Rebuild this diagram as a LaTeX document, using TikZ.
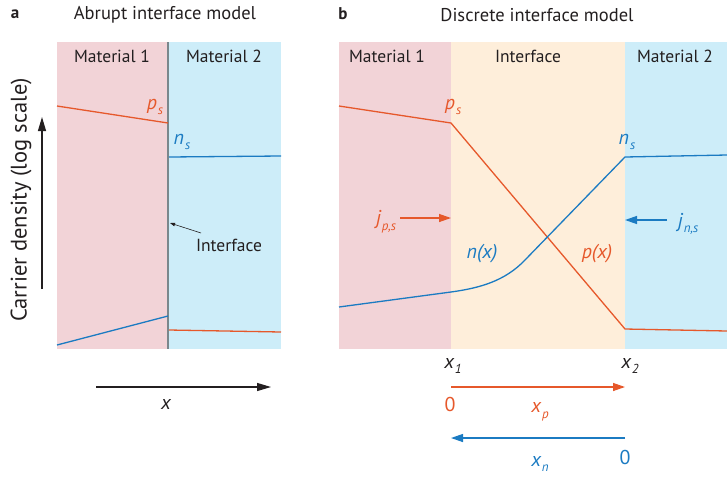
\documentclass[tikz,border=0pt]{standalone}
\usepackage{fontspec}
\setmainfont{PT Sans}
\usetikzlibrary{arrows.meta}
\definecolor{matone}{HTML}{F2D3D7}
\definecolor{mattwo}{HTML}{CDEDF9}
\definecolor{intf}{HTML}{FEEEDA}
\definecolor{redc}{HTML}{E6582B}
\definecolor{bluec}{HTML}{1B7BC2}
\definecolor{grayc}{HTML}{7A878C}
\definecolor{textc}{HTML}{231F20}
\newcommand\mysb[1]{\kern1pt\raisebox{-0.28em}{\fontsize{13}{13}\selectfont #1}}
\begin{document}
\begin{tikzpicture}[x=1pt,y=-1pt,
  lbl/.style={font=\fontsize{17.5}{20}\selectfont, text=textc, inner sep=0pt},
  ttl/.style={font=\fontsize{18.5}{21}\selectfont, text=textc, inner sep=0pt},
  panel/.style={font=\fontsize{17}{19}\selectfont\bfseries, text=textc, inner sep=0pt},
  curve/.style={line width=1.3pt},
  var/.style={font=\fontsize{20}{22}\selectfont\itshape, inner sep=0pt},
  num/.style={font=\fontsize{20}{22}\selectfont, inner sep=0pt},
  arr/.style={-{Triangle[length=12pt,width=8pt]}, line width=1.3pt},
  axarr/.style={-{Triangle[length=14pt,width=8pt]}, line width=1.2pt, textc},
]
\useasboundingbox (0,0) rectangle (727,477);
% ---------- panel a ----------
\node[panel] (la) at (15,14) {a};
\node[ttl] (ta) at (165,15) {Abrupt interface model};
\fill[matone] (57,42) rectangle (168,349);
\fill[mattwo] (168,42) rectangle (281,349);
\draw[grayc, line width=1.6pt] (168,42) -- (168,349);
\node[lbl] (m1a) at (112,56) {Material 1};
\node[lbl] (m2a) at (224,56) {Material 2};
\coordinate (pa1) at (57,106); \coordinate (pa2) at (168,123);
\coordinate (na1) at (169,157); \coordinate (na2) at (281,156);
\coordinate (nb1) at (57,345); \coordinate (nb2) at (168,316);
\coordinate (pb1) at (169,330); \coordinate (pb2) at (281,332);
\draw[redc,curve] (pa1) -- (pa2);
\draw[bluec,curve] (na1) -- (na2);
\draw[bluec,curve] (nb1) -- (nb2);
\draw[redc,curve] (pb1) -- (pb2);
\node[var,text=redc] (psa) at (155,107) {p\mysb{s}};
\node[var,text=bluec] (nsa) at (182,142) {n\mysb{s}};
\node[lbl] (ifa) at (229,245) {Interface};
\coordinate (ifatip) at (170,223);
\draw[textc, line width=0.6pt, -{Triangle[length=5pt,width=3.5pt]}] (201,233) -- (ifatip);
\coordinate (ya1) at (42,289); \coordinate (ya2) at (42,117);
\draw[axarr] (ya1) -- (ya2);
\node[font=\fontsize{22.5}{25}\selectfont, text=textc, rotate=90, inner sep=0pt] (ylab) at (21,200) {Carrier density (log scale)};
\coordinate (xa1) at (96,387); \coordinate (xa2) at (271,387);
\draw[axarr] (xa1) -- (xa2);
\node[var,text=textc] (xlab) at (166,404) {x};
% ---------- panel b ----------
\node[panel] (lb) at (343,14) {b};
\node[ttl] (tb) at (537,15) {Discrete interface model};
\fill[matone] (339,42) rectangle (451,349);
\fill[intf] (451,42) rectangle (625,349);
\fill[mattwo] (625,42) rectangle (727,349);
\node[lbl] (m1b) at (387,56) {Material 1};
\node[lbl] (ifb) at (528,56) {Interface};
\node[lbl] (m2b) at (675,56) {Material 2};
\coordinate (p1) at (339,106); \coordinate (p2) at (451,123);
\coordinate (p3) at (625,329); \coordinate (p4) at (727,331);
\draw[redc,curve] (p1) -- (p2) -- (p3) -- (p4);
\coordinate (n1) at (339,307); \coordinate (n2) at (451,292);
\coordinate (n3) at (525,260); \coordinate (n4) at (625,157); \coordinate (n5) at (727,155);
\draw[bluec,curve] (n1) -- (n2) .. controls (480,288) and (505,281) .. (n3) -- (n4) -- (n5);
\node[var,text=redc] (psb) at (453,107) {p\mysb{s}};
\node[var,text=bluec] (nsb) at (627,142) {n\mysb{s}};
\node[var,text=redc] (jp) at (386,222) {j\mysb{p,s}};
\coordinate (jps) at (400,218); \coordinate (jpe) at (451,218);
\draw[arr,redc] (jps) -- (jpe);
\node[var,text=bluec] (jn) at (688,224) {j\mysb{n,s}};
\coordinate (jns) at (667,220); \coordinate (jne) at (625,220);
\draw[arr,bluec] (jns) -- (jne);
\node[var,text=bluec] (nx) at (482,254) {n(x)};
\node[var,text=redc] (px) at (597,254) {p(x)};
\node[var,text=textc] (x1) at (453,366) {x\mysb{1}};
\node[var,text=textc] (x2) at (630,366) {x\mysb{2}};
\coordinate (rp1) at (451,387); \coordinate (rp2) at (625,387);
\draw[arr,redc] (rp1) -- (rp2);
\node[num,text=redc] (zr) at (450,404) {0};
\node[var,text=redc] (xp) at (540,412) {x\mysb{p}};
\coordinate (bn1) at (625,438); \coordinate (bn2) at (451,438);
\draw[arr,bluec] (bn1) -- (bn2);
\node[num,text=bluec] (zb) at (625,457) {0};
\node[var,text=bluec] (xn) at (540,464) {x\mysb{n}};
\end{tikzpicture}
\end{document}
